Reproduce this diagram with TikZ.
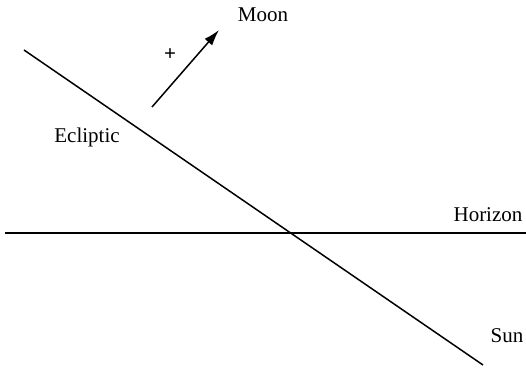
\documentclass[tikz,border=0pt]{standalone}
\usepackage{fontspec}
\setmainfont{Liberation Serif}
\usepackage{tikz}
\usetikzlibrary{arrows.meta}

\begin{document}
\begin{tikzpicture}[
  x=0.5pt, y=-0.5pt,
  >=Latex,
  font=\fontsize{10.5}{12}\selectfont,
  skyline/.style={line width=0.75pt, draw=black},
  motion/.style={->, line width=0.75pt, draw=black, >={Latex[length=8pt,width=5pt]}},
  lbl/.style={inner sep=0pt, anchor=center}
]
\useasboundingbox (0,0) rectangle (526,369);
% end points of the lines
\coordinate (eclA) at (24,50);
\coordinate (eclB) at (483,365);
\coordinate (horA) at (5,233);
\coordinate (horB) at (526,233);
\coordinate (moonA) at (152,107);
\coordinate (moonB) at (219,30);

\draw[skyline] (eclA) -- (eclB);
\draw[skyline] (horA) -- (horB);
\draw[motion] (moonA) -- (moonB);

\node[lbl] (plus) at (170,55) {\textbf{+}};
\node[lbl] (moon) at (263,15) {Moon};
\node[lbl] (ecliptic) at (87,137) {Ecliptic};
\node[lbl] (horizon) at (488,215) {Horizon};
\node[lbl] (sun) at (507,336) {Sun};
\end{tikzpicture}
\end{document}
